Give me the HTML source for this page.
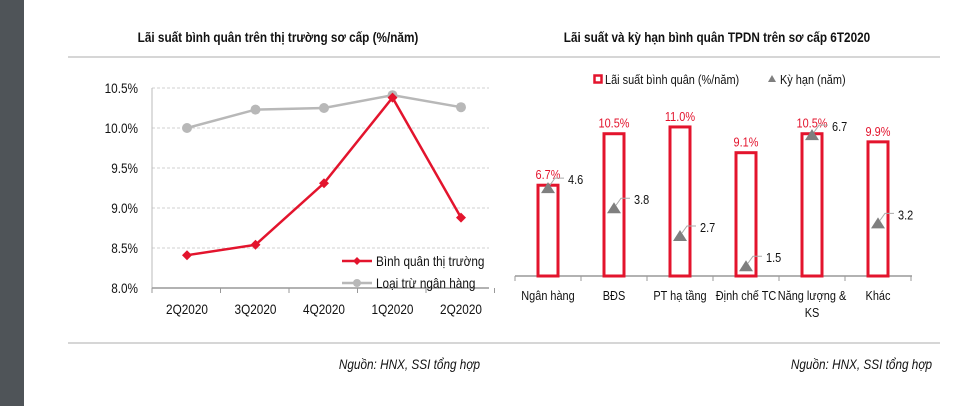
<!DOCTYPE html>
<html><head><meta charset="utf-8"><style>
html,body{margin:0;padding:0;background:#fff;}
svg{display:block;font-family:"Liberation Sans Narrow","Liberation Sans",sans-serif;}
</style></head><body>
<svg id="s" width="960" height="406" viewBox="0 0 960 406">
<rect x="0" y="0" width="24" height="406" fill="#4f5458"/>
<line x1="68" y1="57" x2="940" y2="57" stroke="#c8c8c8" stroke-width="1.5"/>
<line x1="68" y1="343" x2="940" y2="343" stroke="#c8c8c8" stroke-width="1.5"/>
<text x="278" y="42" text-anchor="middle" font-size="14" font-weight="bold" fill="#111">Lãi suất bình quân trên thị trường sơ cấp (%/năm)</text>
<text x="717" y="42" text-anchor="middle" font-size="14" font-weight="bold" fill="#111">Lãi suất và kỳ hạn bình quân TPDN trên sơ cấp 6T2020</text>
<text x="480" y="369" text-anchor="end" font-size="14" font-style="italic" fill="#111">Nguồn: HNX, SSI tổng hợp</text>
<text x="932" y="369" text-anchor="end" font-size="14" font-style="italic" fill="#111">Nguồn: HNX, SSI tổng hợp</text>
<g id="left"></g>
<g id="right"></g>
</svg>
<script>
const quarters=["2Q2020","3Q2020","4Q2020","1Q2020","2Q2020"];
const marketAvg=[8.41,8.54,9.31,10.38,8.88];
const exBanks=[10.0,10.23,10.25,10.41,10.26];
const yTicks=[8.0,8.5,9.0,9.5,10.0,10.5];
const yTickLabels=["8.0%","8.5%","9.0%","9.5%","10.0%","10.5%"];

const sectors=["Ngân hàng","BĐS","PT hạ tầng","Định chế TC","Năng lượng &|KS","Khác"];
const rates=[6.7,10.5,11.0,9.1,10.5,9.9];
const rateLabels=["6.7%","10.5%","11.0%","9.1%","10.5%","9.9%"];
const tenors=[4.6,3.8,2.7,1.5,6.7,3.2];
const tenorLabels=["4.6","3.8","2.7","1.5","6.7","3.2"];

const NS="http://www.w3.org/2000/svg";
function mk(parent,tag,attrs,text){const e=document.createElementNS(NS,tag);for(const k in attrs)e.setAttribute(k,attrs[k]);if(text!==undefined)e.textContent=text;parent.appendChild(e);return e;}

// LEFT
const L=document.getElementById('left');
const lx=i=>187+i*68.5;
const ly=v=>288-(v-8)*80;
yTicks.forEach((t,i)=>{
  if(i>0){const g=mk(L,'line',{x1:152,x2:489,y1:ly(t),y2:ly(t),stroke:'#d0d0d0','stroke-dasharray':'3,2'});
  
  }
  const tl=mk(L,'text',{x:138,y:ly(t)+5,'text-anchor':'end','font-size':14,fill:'#111'},yTickLabels[i]);
  
  
});
const ya=mk(L,'line',{x1:152,x2:152,y1:88,y2:288,stroke:'#bbb'});


const xa=mk(L,'line',{x1:152,x2:489,y1:288,y2:288,stroke:'#999','stroke-width':1.5});


for(let i=0;i<=5;i++){const tk=mk(L,'line',{x1:152+i*68.5,x2:152+i*68.5,y1:288,y2:293,stroke:'#999'});

}
quarters.forEach((q,i)=>{const t=mk(L,'text',{x:lx(i),y:314,'text-anchor':'middle','font-size':14,fill:'#111'},q);

});
const gp=mk(L,'polyline',{points:exBanks.map((v,i)=>lx(i)+','+ly(v)).join(' '),fill:'none',stroke:'#b8b8b8','stroke-width':2.5});


exBanks.forEach((v,i)=>{const c=mk(L,'circle',{cx:lx(i),cy:ly(v),r:5,fill:'#b8b8b8'});

});
const rp=mk(L,'polyline',{points:marketAvg.map((v,i)=>lx(i)+','+ly(v)).join(' '),fill:'none',stroke:'#e3142d','stroke-width':2.5});


marketAvg.forEach((v,i)=>{const x=lx(i),y=ly(v);const d=mk(L,'polygon',{points:`${x},${y-5} ${x+5},${y} ${x},${y+5} ${x-5},${y}`,fill:'#e3142d'});

});
const lg=mk(L,'g',{});


mk(lg,'line',{x1:342,x2:372,y1:261,y2:261,stroke:'#e3142d','stroke-width':2.5});
mk(lg,'polygon',{points:'357,257 361,261 357,265 353,261',fill:'#e3142d'});
mk(lg,'text',{x:376,y:266,'font-size':14,fill:'#111'},'Bình quân thị trường');
mk(lg,'line',{x1:342,x2:372,y1:283,y2:283,stroke:'#b8b8b8','stroke-width':2.5});
mk(lg,'circle',{cx:357,cy:283,r:4,fill:'#b8b8b8'});
mk(lg,'text',{x:376,y:288,'font-size':14,fill:'#111'},'Loại trừ ngân hàng');

// RIGHT
const R=document.getElementById('right');
const bx=i=>548+i*66;
const by=v=>276-v*13.55;
const ty=v=>304-v*25.2;
const ax=mk(R,'line',{x1:515,x2:912,y1:276,y2:276,stroke:'#999','stroke-width':1.5});


for(let i=0;i<=6;i++){const tk=mk(R,'line',{x1:515+i*66,x2:515+i*66,y1:276,y2:281,stroke:'#999'});

}
rates.forEach((v,i)=>{
  const b=mk(R,'rect',{x:bx(i)-10,y:by(v),width:20,height:276-by(v),fill:'#fff',stroke:'#e3142d','stroke-width':3});
  
  
  const t=mk(R,'text',{x:bx(i),y:by(v)-6,'text-anchor':'middle','font-size':13,fill:'#e3142d'},rateLabels[i]);
  
  
});
tenors.forEach((v,i)=>{
  const x=bx(i),y=ty(v);
  const tr=mk(R,'polygon',{points:`${x},${y-6} ${x+7},${y+5} ${x-7},${y+5}`,fill:'#7f7f7f'});
  
  
  const ld=mk(R,'polyline',{points:`${x+2},${y-3} ${x+7},${y-10} ${x+16},${y-10}`,fill:'none',stroke:'#aaa','stroke-width':1});
  
  
  const t=mk(R,'text',{x:x+20,y:y-4,'font-size':13,fill:'#111'},tenorLabels[i]);
  
  
});
sectors.forEach((s,i)=>{
  s.split('|').forEach((p,j)=>{const t=mk(R,'text',{x:bx(i),y:300+j*17,'text-anchor':'middle','font-size':13,fill:'#111'},p);
  
  });
});
const rl=mk(R,'g',{});


mk(rl,'rect',{x:594.5,y:75.5,width:7,height:7,fill:'#fff',stroke:'#e3142d','stroke-width':2.5});
mk(rl,'text',{x:605,y:84,'font-size':13,fill:'#111'},'Lãi suất bình quân (%/năm)');
mk(rl,'polygon',{points:'772,75 776,82 768,82',fill:'#7f7f7f'});
mk(rl,'text',{x:780,y:84,'font-size':13,fill:'#111'},'Kỳ hạn (năm)');

// condense text to mimic narrow font
document.querySelectorAll('#s text').forEach(t=>{
  const w=t.getComputedTextLength();
  if(w>0){t.setAttribute('textLength',(w*0.84).toFixed(1));t.setAttribute('lengthAdjust','spacingAndGlyphs');}
});
</script>
</body></html>
